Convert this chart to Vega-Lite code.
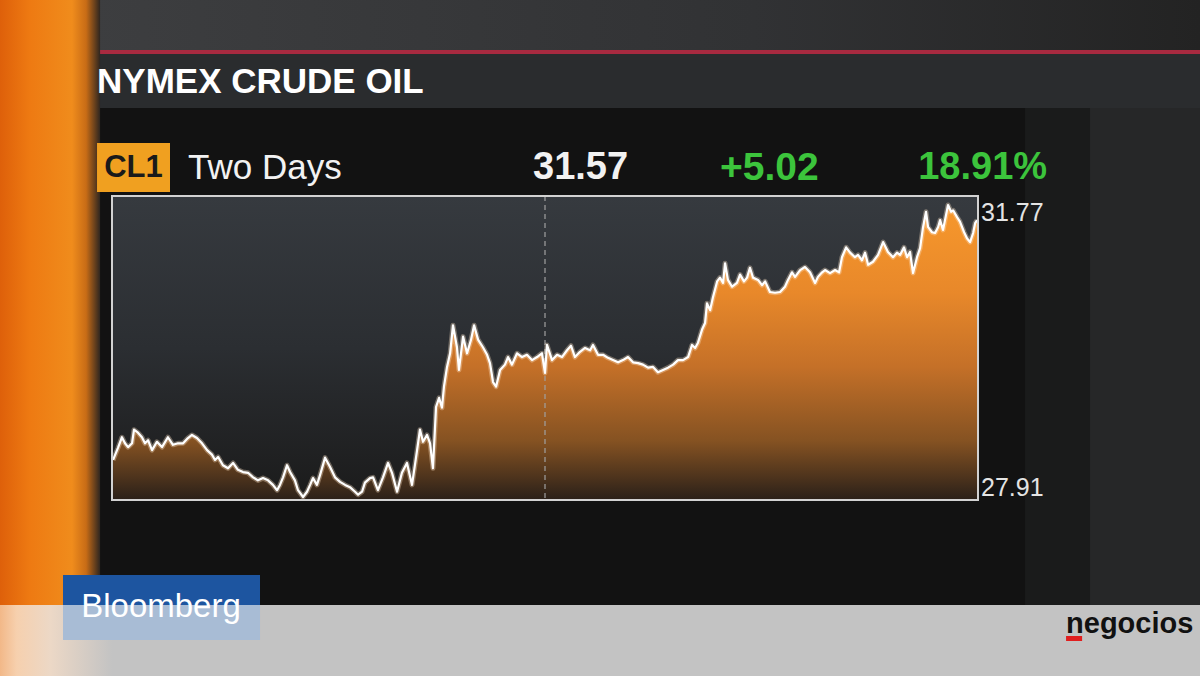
{
  "$schema": "https://vega.github.io/schema/vega-lite/v6.json",
  "width": 866,
  "height": 304,
  "autosize": "none",
  "padding": {"left": 112, "top": 196, "right": 222, "bottom": 176},
  "background": "#1c1c1c",
  "config": {
    "view": {"stroke": null, "fill": null},
    "text": {"font": "Liberation Sans"}
  },
  "datasets": {
    "oil": [
      {"t": 0.06, "p": 28.40}, {"t": 0.33, "p": 28.56}, {"t": 0.55, "p": 28.70}, {"t": 0.72, "p": 28.62},
      {"t": 0.89, "p": 28.57}, {"t": 1.11, "p": 28.62}, {"t": 1.22, "p": 28.80}, {"t": 1.44, "p": 28.76},
      {"t": 1.66, "p": 28.70}, {"t": 1.83, "p": 28.62}, {"t": 2.00, "p": 28.66}, {"t": 2.22, "p": 28.53},
      {"t": 2.49, "p": 28.64}, {"t": 2.77, "p": 28.57}, {"t": 3.10, "p": 28.70}, {"t": 3.38, "p": 28.60},
      {"t": 3.66, "p": 28.62}, {"t": 3.94, "p": 28.62}, {"t": 4.21, "p": 28.69}, {"t": 4.43, "p": 28.73},
      {"t": 4.71, "p": 28.69}, {"t": 4.99, "p": 28.62}, {"t": 5.27, "p": 28.53}, {"t": 5.54, "p": 28.47},
      {"t": 5.71, "p": 28.40}, {"t": 5.88, "p": 28.44}, {"t": 6.15, "p": 28.33}, {"t": 6.43, "p": 28.29},
      {"t": 6.71, "p": 28.36}, {"t": 6.98, "p": 28.27}, {"t": 7.26, "p": 28.24}, {"t": 7.54, "p": 28.23},
      {"t": 7.82, "p": 28.17}, {"t": 8.09, "p": 28.13}, {"t": 8.37, "p": 28.16}, {"t": 8.65, "p": 28.13},
      {"t": 8.92, "p": 28.07}, {"t": 9.15, "p": 28.00}, {"t": 9.31, "p": 28.07}, {"t": 9.48, "p": 28.17},
      {"t": 9.70, "p": 28.33}, {"t": 9.87, "p": 28.24}, {"t": 10.14, "p": 28.13}, {"t": 10.31, "p": 28.00},
      {"t": 10.59, "p": 27.91}, {"t": 10.81, "p": 27.98}, {"t": 10.98, "p": 28.07}, {"t": 11.14, "p": 28.16},
      {"t": 11.36, "p": 28.07}, {"t": 11.53, "p": 28.20}, {"t": 11.81, "p": 28.43}, {"t": 12.08, "p": 28.31},
      {"t": 12.36, "p": 28.17}, {"t": 12.64, "p": 28.11}, {"t": 12.92, "p": 28.07}, {"t": 13.19, "p": 28.04},
      {"t": 13.47, "p": 27.98}, {"t": 13.64, "p": 27.94}, {"t": 13.86, "p": 27.98}, {"t": 14.02, "p": 28.10},
      {"t": 14.30, "p": 28.16}, {"t": 14.47, "p": 28.17}, {"t": 14.74, "p": 28.00}, {"t": 15.02, "p": 28.17},
      {"t": 15.30, "p": 28.36}, {"t": 15.52, "p": 28.23}, {"t": 15.80, "p": 27.98}, {"t": 16.07, "p": 28.23},
      {"t": 16.35, "p": 28.36}, {"t": 16.63, "p": 28.07}, {"t": 16.91, "p": 28.53}, {"t": 17.07, "p": 28.80},
      {"t": 17.24, "p": 28.64}, {"t": 17.46, "p": 28.73}, {"t": 17.63, "p": 28.62}, {"t": 17.79, "p": 28.29},
      {"t": 17.96, "p": 29.10}, {"t": 18.13, "p": 29.22}, {"t": 18.29, "p": 29.09}, {"t": 18.40, "p": 29.37},
      {"t": 18.57, "p": 29.63}, {"t": 18.74, "p": 29.81}, {"t": 18.90, "p": 30.18}, {"t": 19.12, "p": 29.89},
      {"t": 19.23, "p": 29.59}, {"t": 19.46, "p": 30.03}, {"t": 19.68, "p": 29.81}, {"t": 19.90, "p": 29.99},
      {"t": 20.07, "p": 30.18}, {"t": 20.29, "p": 29.99}, {"t": 20.56, "p": 29.89}, {"t": 20.79, "p": 29.79},
      {"t": 20.95, "p": 29.68}, {"t": 21.12, "p": 29.43}, {"t": 21.29, "p": 29.37}, {"t": 21.51, "p": 29.59},
      {"t": 21.78, "p": 29.66}, {"t": 21.95, "p": 29.76}, {"t": 22.17, "p": 29.66}, {"t": 22.45, "p": 29.81},
      {"t": 22.73, "p": 29.76}, {"t": 23.00, "p": 29.79}, {"t": 23.28, "p": 29.72}, {"t": 23.56, "p": 29.76},
      {"t": 23.83, "p": 29.81}, {"t": 24.00, "p": 29.55}, {"t": 24.11, "p": 29.92}, {"t": 24.39, "p": 29.72},
      {"t": 24.67, "p": 29.79}, {"t": 24.94, "p": 29.76}, {"t": 25.22, "p": 29.85}, {"t": 25.44, "p": 29.91},
      {"t": 25.66, "p": 29.76}, {"t": 25.94, "p": 29.83}, {"t": 26.22, "p": 29.88}, {"t": 26.50, "p": 29.85},
      {"t": 26.66, "p": 29.92}, {"t": 26.94, "p": 29.79}, {"t": 27.22, "p": 29.79}, {"t": 27.49, "p": 29.75},
      {"t": 27.77, "p": 29.72}, {"t": 28.05, "p": 29.69}, {"t": 28.32, "p": 29.72}, {"t": 28.60, "p": 29.76},
      {"t": 28.88, "p": 29.69}, {"t": 29.16, "p": 29.68}, {"t": 29.43, "p": 29.66}, {"t": 29.71, "p": 29.62},
      {"t": 29.99, "p": 29.63}, {"t": 30.26, "p": 29.56}, {"t": 30.54, "p": 29.59}, {"t": 30.82, "p": 29.62},
      {"t": 31.10, "p": 29.66}, {"t": 31.37, "p": 29.72}, {"t": 31.65, "p": 29.72}, {"t": 31.93, "p": 29.76},
      {"t": 32.15, "p": 29.92}, {"t": 32.32, "p": 29.88}, {"t": 32.48, "p": 29.95}, {"t": 32.70, "p": 30.12},
      {"t": 32.87, "p": 30.21}, {"t": 32.98, "p": 30.47}, {"t": 33.15, "p": 30.38}, {"t": 33.31, "p": 30.55},
      {"t": 33.54, "p": 30.76}, {"t": 33.70, "p": 30.81}, {"t": 33.87, "p": 30.74}, {"t": 33.98, "p": 31.00},
      {"t": 34.14, "p": 30.78}, {"t": 34.37, "p": 30.69}, {"t": 34.64, "p": 30.74}, {"t": 34.81, "p": 30.85},
      {"t": 35.03, "p": 30.76}, {"t": 35.20, "p": 30.81}, {"t": 35.36, "p": 30.94}, {"t": 35.53, "p": 30.81},
      {"t": 35.81, "p": 30.78}, {"t": 36.03, "p": 30.71}, {"t": 36.20, "p": 30.76}, {"t": 36.47, "p": 30.62},
      {"t": 36.75, "p": 30.61}, {"t": 37.03, "p": 30.62}, {"t": 37.30, "p": 30.69}, {"t": 37.47, "p": 30.78},
      {"t": 37.69, "p": 30.88}, {"t": 37.86, "p": 30.82}, {"t": 38.14, "p": 30.91}, {"t": 38.41, "p": 30.95},
      {"t": 38.69, "p": 30.88}, {"t": 38.97, "p": 30.74}, {"t": 39.13, "p": 30.82}, {"t": 39.36, "p": 30.88},
      {"t": 39.52, "p": 30.91}, {"t": 39.80, "p": 30.87}, {"t": 40.08, "p": 30.91}, {"t": 40.30, "p": 30.88},
      {"t": 40.46, "p": 31.08}, {"t": 40.69, "p": 31.21}, {"t": 40.91, "p": 31.14}, {"t": 41.18, "p": 31.08},
      {"t": 41.35, "p": 31.11}, {"t": 41.57, "p": 31.04}, {"t": 41.74, "p": 31.14}, {"t": 41.91, "p": 30.98},
      {"t": 42.18, "p": 31.02}, {"t": 42.46, "p": 31.11}, {"t": 42.74, "p": 31.28}, {"t": 43.01, "p": 31.15},
      {"t": 43.29, "p": 31.08}, {"t": 43.51, "p": 31.14}, {"t": 43.68, "p": 31.11}, {"t": 43.90, "p": 31.21},
      {"t": 44.07, "p": 31.08}, {"t": 44.23, "p": 31.15}, {"t": 44.40, "p": 30.87}, {"t": 44.62, "p": 31.08},
      {"t": 44.79, "p": 31.20}, {"t": 44.95, "p": 31.47}, {"t": 45.12, "p": 31.68}, {"t": 45.23, "p": 31.48},
      {"t": 45.45, "p": 31.41}, {"t": 45.62, "p": 31.40}, {"t": 45.79, "p": 31.48}, {"t": 45.90, "p": 31.57},
      {"t": 46.06, "p": 31.44}, {"t": 46.17, "p": 31.57}, {"t": 46.34, "p": 31.77}, {"t": 46.51, "p": 31.68},
      {"t": 46.62, "p": 31.70}, {"t": 46.84, "p": 31.61}, {"t": 47.00, "p": 31.55}, {"t": 47.23, "p": 31.41},
      {"t": 47.39, "p": 31.33}, {"t": 47.56, "p": 31.28}, {"t": 47.73, "p": 31.40}, {"t": 47.84, "p": 31.53},
      {"t": 47.95, "p": 31.57}
    ]
  },
  "layer": [
    {
      "data": {"values": [{}]},
      "mark": {"type": "rect", "fill": {"gradient": "linear", "x1": 0, "y1": 0, "x2": 1, "y2": 0, "stops": [{"offset": 0, "color": "#3d3e40"}, {"offset": 0.6, "color": "#313234"}, {"offset": 1, "color": "#232323"}]}},
      "encoding": {
        "x": {"datum": -1.33, "type": "quantitative", "axis": null}, "x2": {"datum": 60.31},
        "y": {"datum": 34.48, "type": "quantitative", "axis": null}, "y2": {"datum": 33.819}
      }
    },
    {
      "data": {"values": [{}]},
      "mark": {"type": "rect", "fill": "#2a2c2e"},
      "encoding": {
        "x": {"datum": -1.33, "type": "quantitative", "axis": null}, "x2": {"datum": 60.31},
        "y": {"datum": 33.766, "type": "quantitative", "axis": null}, "y2": {"datum": 33.052}
      }
    },
    {
      "data": {"values": [{}]},
      "mark": {"type": "rect", "fill": "#a82a40"},
      "encoding": {
        "x": {"datum": -1.33, "type": "quantitative", "axis": null}, "x2": {"datum": 60.31},
        "y": {"datum": 33.819, "type": "quantitative", "axis": null}, "y2": {"datum": 33.766}
      }
    },
    {
      "data": {"values": [{}]},
      "mark": {"type": "rect", "fill": "#121212"},
      "encoding": {
        "x": {"datum": -1.33, "type": "quantitative", "axis": null}, "x2": {"datum": 50.61},
        "y": {"datum": 33.052, "type": "quantitative", "axis": null}, "y2": {"datum": 26.483}
      }
    },
    {
      "data": {"values": [{}]},
      "mark": {"type": "rect", "fill": "#1a1b1b"},
      "encoding": {
        "x": {"datum": 50.61, "type": "quantitative", "axis": null}, "x2": {"datum": 54.21},
        "y": {"datum": 33.052, "type": "quantitative", "axis": null}, "y2": {"datum": 26.483}
      }
    },
    {
      "data": {"values": [{}]},
      "mark": {"type": "rect", "fill": "#262728"},
      "encoding": {
        "x": {"datum": 54.21, "type": "quantitative", "axis": null}, "x2": {"datum": 60.31},
        "y": {"datum": 33.052, "type": "quantitative", "axis": null}, "y2": {"datum": 26.483}
      }
    },
    {
      "data": {"values": [{}]},
      "mark": {"type": "rect", "fill": {"gradient": "linear", "x1": 0, "y1": 0, "x2": 1, "y2": 0, "stops": [{"offset": 0, "color": "#de600a"}, {"offset": 0.3, "color": "#ee7a12"}, {"offset": 0.72, "color": "#f08c1c"}, {"offset": 0.86, "color": "#c86c16"}, {"offset": 1, "color": "#2e2620"}]}},
      "encoding": {
        "x": {"datum": -6.21, "type": "quantitative", "axis": null}, "x2": {"datum": -0.66},
        "y": {"datum": 34.48, "type": "quantitative", "axis": null}, "y2": {"datum": 26.483}
      }
    },
    {
      "data": {"values": [{}]},
      "mark": {"type": "rect", "fill": "#c3c3c3"},
      "encoding": {
        "x": {"datum": -6.21, "type": "quantitative", "axis": null}, "x2": {"datum": 60.31},
        "y": {"datum": 26.483, "type": "quantitative", "axis": null}, "y2": {"datum": 25.544}
      }
    },
    {
      "data": {"values": [{}]},
      "mark": {"type": "rect", "fill": {"gradient": "linear", "x1": 0, "y1": 0, "x2": 1, "y2": 0, "stops": [{"offset": 0, "color": "#f2b888"}, {"offset": 0.15, "color": "#f6d0ae"}, {"offset": 0.45, "color": "#ecd8c6"}, {"offset": 1, "color": "#c3c3c3"}]}},
      "encoding": {
        "x": {"datum": -6.21, "type": "quantitative", "axis": null}, "x2": {"datum": 0.0},
        "y": {"datum": 26.483, "type": "quantitative", "axis": null}, "y2": {"datum": 25.544}
      }
    },
    {
      "data": {"values": [{}]},
      "mark": {"type": "rect", "fill": "#1d55a0"},
      "encoding": {
        "x": {"datum": -2.716, "type": "quantitative", "axis": null}, "x2": {"datum": 8.204},
        "y": {"datum": 26.879, "type": "quantitative", "axis": null}, "y2": {"datum": 26.483}
      }
    },
    {
      "data": {"values": [{}]},
      "mark": {"type": "rect", "fill": "#a8bcd5"},
      "encoding": {
        "x": {"datum": -2.716, "type": "quantitative", "axis": null}, "x2": {"datum": 8.204},
        "y": {"datum": 26.483, "type": "quantitative", "axis": null}, "y2": {"datum": 26.02}
      }
    },
    {
      "data": {"values": [{"label": "Bloomberg"}]},
      "mark": {"type": "text", "align": "center", "baseline": "middle", "fontSize": 33, "color": "#ffffff", "font": "Liberation Sans", "letterSpacing": -1},
      "encoding": {
        "x": {"datum": 2.716, "type": "quantitative", "axis": null},
        "y": {"datum": 26.456, "type": "quantitative", "axis": null},
        "text": {"field": "label"}
      }
    },
    {
      "data": {"values": [{}]},
      "mark": {"type": "rect", "fill": "#e01e1e"},
      "encoding": {
        "x": {"datum": 52.88, "type": "quantitative", "axis": null}, "x2": {"datum": 53.77},
        "y": {"datum": 26.073, "type": "quantitative", "axis": null}, "y2": {"datum": 26.007}
      }
    },
    {
      "data": {"values": [{"label": "negocios"}]},
      "mark": {"type": "text", "align": "left", "baseline": "alphabetic", "fontSize": 29, "fontWeight": "bold", "color": "#111111", "letterSpacing": -1.8},
      "encoding": {
        "x": {"datum": 52.88, "type": "quantitative", "axis": null},
        "y": {"datum": 26.112, "type": "quantitative", "axis": null},
        "text": {"field": "label"}
      }
    },
    {
      "data": {"values": [{"label": "NYMEX CRUDE OIL"}]},
      "mark": {"type": "text", "align": "left", "baseline": "middle", "fontSize": 35, "fontWeight": "bold", "color": "#ffffff"},
      "encoding": {
        "x": {"datum": -0.83, "type": "quantitative", "axis": null},
        "y": {"datum": 33.395, "type": "quantitative", "axis": null},
        "text": {"field": "label"}
      }
    },
    {
      "data": {"values": [{}]},
      "mark": {"type": "rect", "fill": "#f0a020"},
      "encoding": {
        "x": {"datum": -0.83, "type": "quantitative", "axis": null}, "x2": {"datum": 3.215},
        "y": {"datum": 32.59, "type": "quantitative", "axis": null}, "y2": {"datum": 31.942}
      }
    },
    {
      "data": {"values": [{"label": "CL1"}]},
      "mark": {"type": "text", "align": "center", "baseline": "middle", "fontSize": 31, "fontWeight": "bold", "color": "#1a1a1a", "letterSpacing": -1},
      "encoding": {
        "x": {"datum": 1.192, "type": "quantitative", "axis": null},
        "y": {"datum": 32.259, "type": "quantitative", "axis": null},
        "text": {"field": "label"}
      }
    },
    {
      "data": {"values": [{"label": "Two Days"}]},
      "mark": {"type": "text", "align": "left", "baseline": "middle", "fontSize": 35, "color": "#f2f2f2", "letterSpacing": -1},
      "encoding": {
        "x": {"datum": 4.213, "type": "quantitative", "axis": null},
        "y": {"datum": 32.259, "type": "quantitative", "axis": null},
        "text": {"field": "label"}
      }
    },
    {
      "data": {"values": [{"label": "31.57"}]},
      "mark": {"type": "text", "align": "left", "baseline": "middle", "fontSize": 38, "fontWeight": "bold", "color": "#f2f2f2", "letterSpacing": -0.5},
      "encoding": {
        "x": {"datum": 23.336, "type": "quantitative", "axis": null},
        "y": {"datum": 32.259, "type": "quantitative", "axis": null},
        "text": {"field": "label"}
      }
    },
    {
      "data": {"values": [{"label": "+5.02"}]},
      "mark": {"type": "text", "align": "left", "baseline": "middle", "fontSize": 39, "fontWeight": "bold", "color": "#3cc43c", "letterSpacing": 0.5},
      "encoding": {
        "x": {"datum": 33.7, "type": "quantitative", "axis": null},
        "y": {"datum": 32.259, "type": "quantitative", "axis": null},
        "text": {"field": "label"}
      }
    },
    {
      "data": {"values": [{"label": "18.91%"}]},
      "mark": {"type": "text", "align": "right", "baseline": "middle", "fontSize": 38, "fontWeight": "bold", "color": "#3cc43c", "letterSpacing": -1},
      "encoding": {
        "x": {"datum": 51.83, "type": "quantitative", "axis": null},
        "y": {"datum": 32.259, "type": "quantitative", "axis": null},
        "text": {"field": "label"}
      }
    },
    {
      "data": {"values": [{}]},
      "mark": {"type": "rect", "fill": {"gradient": "linear", "x1": 0, "y1": 0, "x2": 0, "y2": 1, "stops": [{"offset": 0, "color": "#363a3f"}, {"offset": 0.5, "color": "#2b2e32"}, {"offset": 1, "color": "#1b1b1b"}]}},
      "encoding": {
        "x": {"datum": 0, "type": "quantitative", "axis": null}, "x2": {"datum": 48},
        "y": {"datum": 31.889, "type": "quantitative", "axis": null}, "y2": {"datum": 27.8705}
      }
    },
    {
      "data": {"name": "oil"},
      "mark": {"type": "area", "fill": {"gradient": "linear", "x1": 0, "y1": 0, "x2": 0, "y2": 1, "stops": [{"offset": 0, "color": "#f7982c"}, {"offset": 0.3, "color": "#e8882a"}, {"offset": 0.55, "color": "#c47028"}, {"offset": 0.8, "color": "#855222"}, {"offset": 1, "color": "#2a2019"}]}},
      "encoding": {
        "x": {"field": "t", "type": "quantitative", "scale": {"domain": [0, 48], "nice": false, "zero": false}, "axis": null},
        "y": {"field": "p", "type": "quantitative", "scale": {"domain": [27.8705, 31.889], "nice": false, "zero": false}, "axis": null},
        "y2": {"datum": 27.8705}
      }
    },
    {
      "data": {"values": [{}]},
      "mark": {"type": "rule", "color": "#a0a0a0", "strokeWidth": 1.5, "strokeDash": [5, 4], "opacity": 0.8},
      "encoding": {
        "x": {"datum": 24, "type": "quantitative", "axis": null}
      }
    },
    {
      "data": {"name": "oil"},
      "mark": {"type": "line", "color": "#ffe6c8", "strokeWidth": 5, "opacity": 0.35, "strokeJoin": "round"},
      "encoding": {
        "x": {"field": "t", "type": "quantitative", "axis": null},
        "y": {"field": "p", "type": "quantitative", "axis": null}
      }
    },
    {
      "data": {"name": "oil"},
      "mark": {"type": "line", "color": "#ffffff", "strokeWidth": 2.2, "strokeJoin": "round"},
      "encoding": {
        "x": {"field": "t", "type": "quantitative", "axis": null},
        "y": {"field": "p", "type": "quantitative", "axis": null}
      }
    },
    {
      "data": {"values": [{}]},
      "mark": {"type": "rect", "fill": null, "stroke": "#d2d2d2", "strokeWidth": 2},
      "encoding": {
        "x": {"datum": 0, "type": "quantitative", "axis": null}, "x2": {"datum": 48},
        "y": {"datum": 31.889, "type": "quantitative", "axis": null}, "y2": {"datum": 27.8705}
      }
    },
    {
      "data": {"values": [{"high": 31.77}]},
      "mark": {"type": "text", "align": "left", "baseline": "top", "dx": 3, "dy": -4, "fontSize": 25, "color": "#e4e4e4", "letterSpacing": -0.5},
      "encoding": {
        "x": {"datum": 48, "type": "quantitative", "axis": null},
        "y": {"field": "high", "type": "quantitative", "axis": null},
        "text": {"field": "high", "type": "quantitative", "format": ".2f"}
      }
    },
    {
      "data": {"values": [{"low": 27.91}]},
      "mark": {"type": "text", "align": "left", "baseline": "bottom", "dx": 3, "dy": 4, "fontSize": 25, "color": "#e4e4e4", "letterSpacing": -0.5},
      "encoding": {
        "x": {"datum": 48, "type": "quantitative", "axis": null},
        "y": {"field": "low", "type": "quantitative", "axis": null},
        "text": {"field": "low", "type": "quantitative", "format": ".2f"}
      }
    }
  ]
}
